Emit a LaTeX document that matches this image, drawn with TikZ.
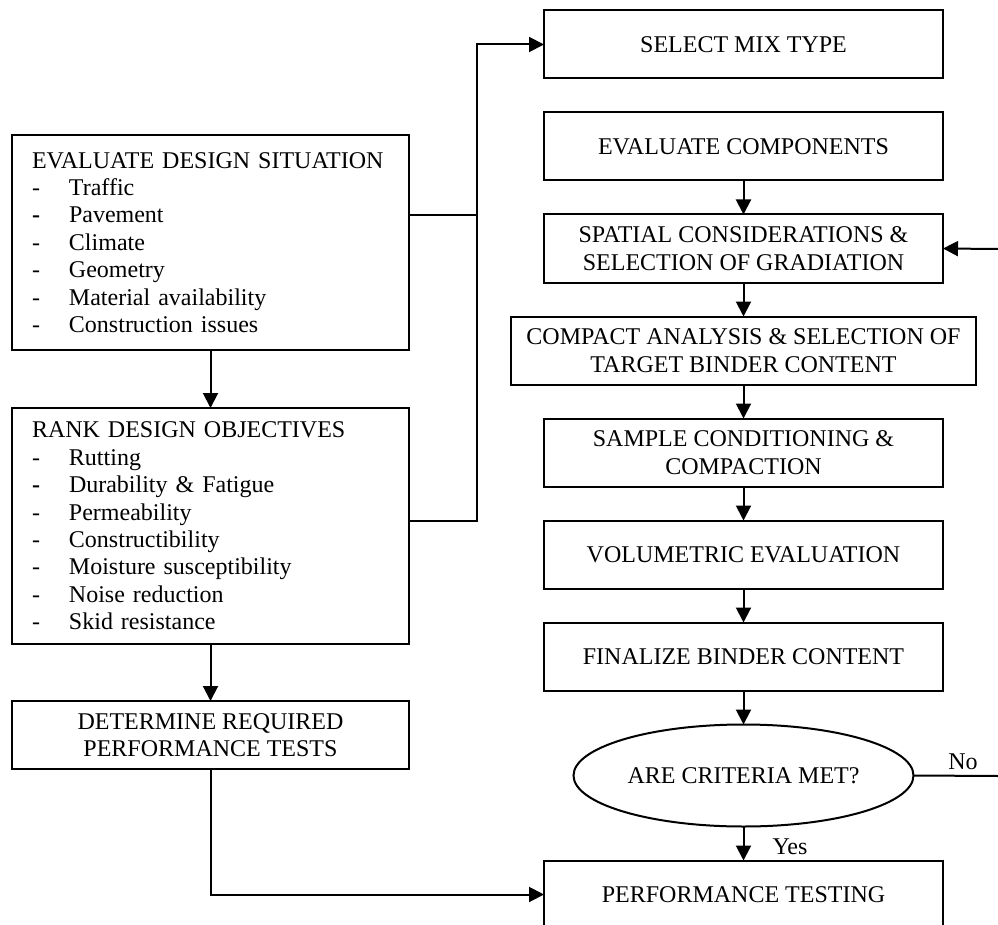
\documentclass[tikz,border=0pt]{standalone}
\usepackage{fontspec}
\setmainfont{Liberation Serif}
\usepackage{tikz}
\usetikzlibrary{positioning,shapes,calc}
\usetikzlibrary{arrows.meta}

\newcommand{\itm}[1]{\makebox[37pt][l]{-}#1}
\newcommand{\itmb}[1]{\makebox[37pt][l]{\textbf{-}}#1}

\begin{document}
\begin{tikzpicture}[
  x = 1pt,
  y = -1pt,
  node distance = 34pt,
  font = \fontsize{24}{27.4}\selectfont,
  line width = 2pt,
  box/.style = {
    draw,
    rectangle,
    align = center,
    outer sep = 0pt,
    minimum width = 399pt,
    minimum height = 68pt,
  },
  listbox/.style = {
    draw,
    rectangle,
    align = left,
    outer sep = 0pt,
    inner xsep = 20pt,
    text width = 357pt,
    minimum width = 397pt,
  },
  decide/.style = {
    draw,
    ellipse,
    outer sep = 0pt,
    minimum width = 340pt,
    minimum height = 102pt,
  },
  >={Triangle[length=15pt,width=15pt]},
]

  \useasboundingbox (0,0) rectangle (998,925);

  \node[listbox,minimum height=215pt] (evalsit) at (210.5,242.5) {EVALUATE DESIGN SITUATION\\
    \itm{Traffic}\\ \itmb{Pavement}\\ \itm{Climate}\\ \itm{Geometry}\\
    \itm{Material availability}\\ \itm{Construction issues}};
  \node[listbox,minimum height=236pt] (rank) [below=58pt of evalsit] {RANK DESIGN OBJECTIVES\\
    \itm{Rutting}\\ \itmb{Durability \& Fatigue}\\ \itm{Permeability}\\ \itm{Constructibility}\\
    \itm{Moisture susceptibility}\\ \itm{Noise reduction}\\ \itm{Skid resistance}};
  \node[box,minimum width=397pt] (perftests) [below=57pt of rank] {DETERMINE REQUIRED\\PERFORMANCE TESTS};

  \node[box] (mixtype) at (743.5,44.5) {SELECT MIX TYPE};
  \node[box] (evalcomp) [below=of mixtype] {EVALUATE COMPONENTS};
  \node[box] (spatial) [below=of evalcomp] {SPATIAL CONSIDERATIONS \&\\SELECTION OF GRADIATION};
  \node[box,minimum width=465pt] (compact) [below=of spatial] {COMPACT ANALYSIS \& SELECTION OF\\TARGET BINDER CONTENT};
  \node[box] (sample) [below=of compact] {SAMPLE CONDITIONING \&\\COMPACTION};
  \node[box] (volumetric) [below=of sample] {VOLUMETRIC EVALUATION};
  \node[box] (finalize) [below=of volumetric] {FINALIZE BINDER CONTENT};
  \node[decide] (criteria) [below=of finalize] {ARE CRITERIA MET?};
  \node[box] (perftest) [below=of criteria] {PERFORMANCE TESTING};

  \node (yes) at (790,847) {Yes};
  \node (no) at (963,762) {No};

  \coordinate (j1) at (477,215);
  \coordinate (j2) at (477,521);
  \coordinate (noend) at (998,776);
  \coordinate (loopin) at (998,249);

  \path[->] (evalsit) edge (rank);
  \path[->] (rank) edge (perftests);
  \path[->] (evalcomp) edge (spatial);
  \path[->] (spatial) edge (compact);
  \path[->] (compact) edge (sample);
  \path[->] (sample) edge (volumetric);
  \path[->] (volumetric) edge (finalize);
  \path[->] (finalize) edge (criteria);
  \path[->] (criteria) edge (perftest);

  \draw (evalsit.east |- j1) -- (j1);
  \draw[->] (rank.east |- j2) -- (j2) |- (mixtype.west);
  \draw[->] (perftests.south) |- (perftest.west);
  \draw (criteria.east) -- (noend);
  \draw[->] (loopin) -- (spatial.east);

\end{tikzpicture}
\end{document}
